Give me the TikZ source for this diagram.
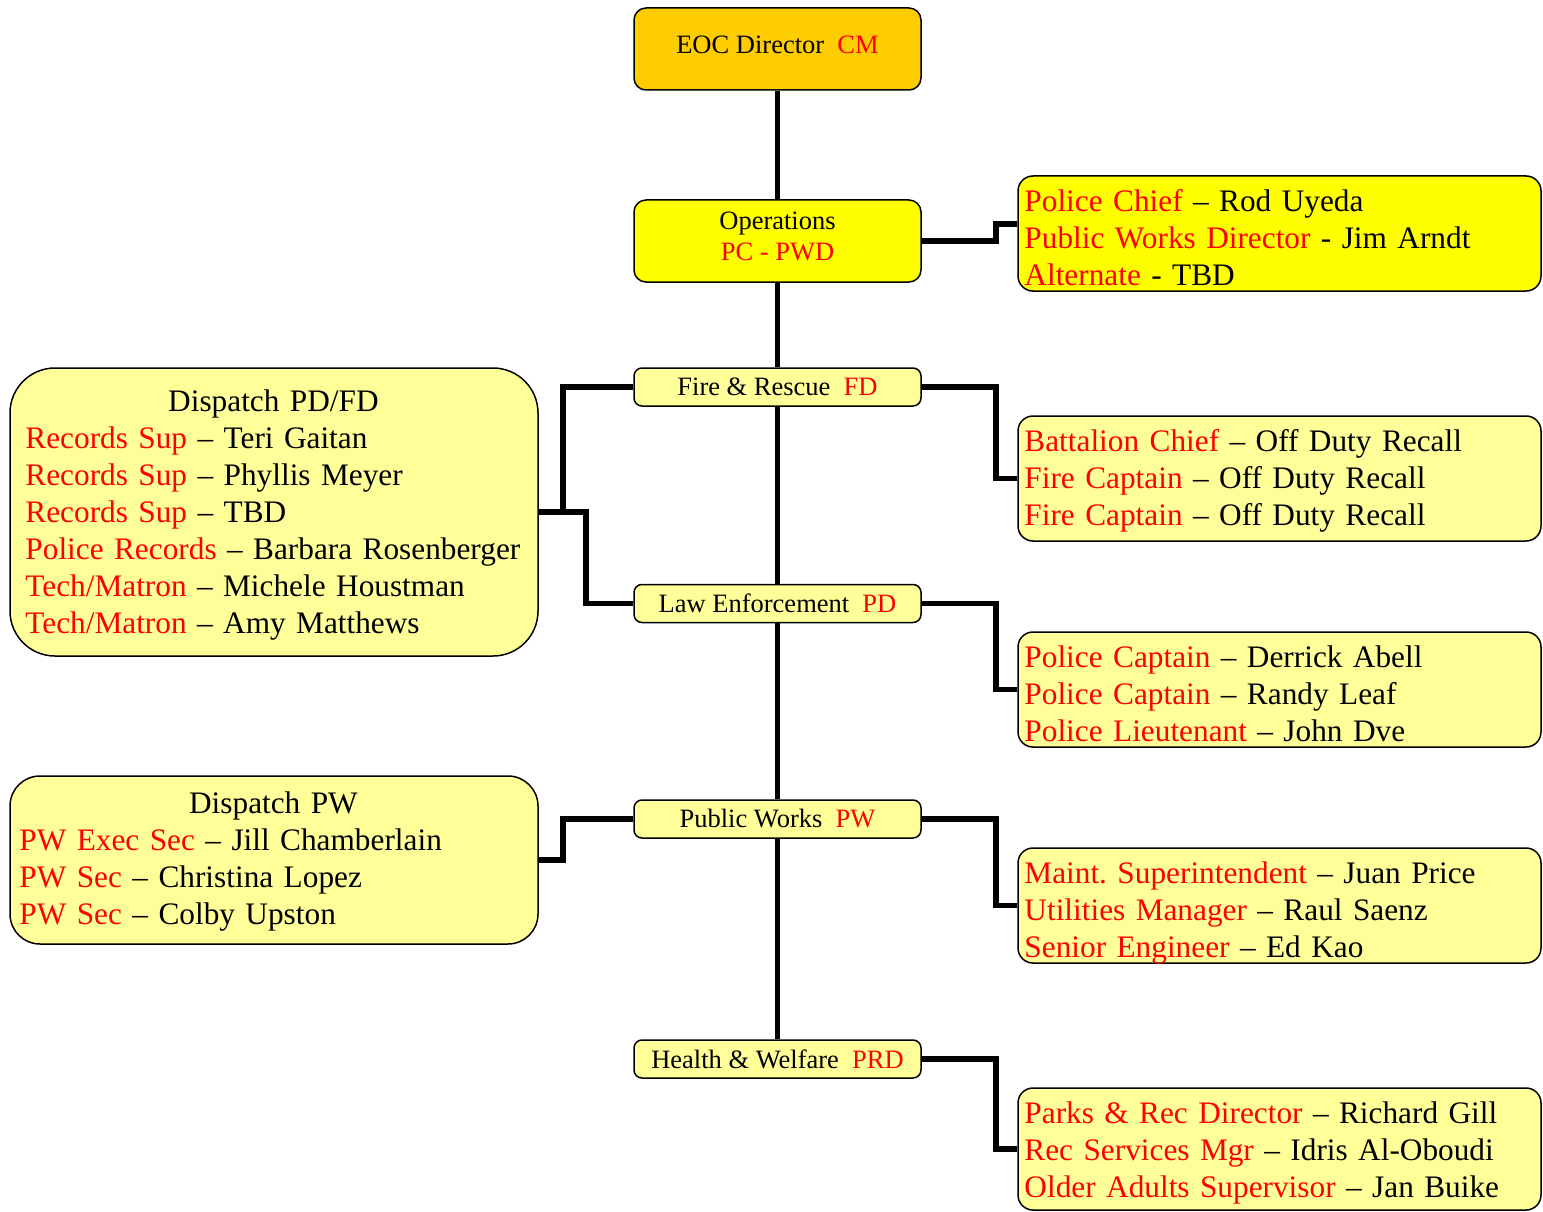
\documentclass[tikz,border=0pt]{standalone}
\usepackage{fontspec}
\setmainfont{Liberation Serif}
\usetikzlibrary{calc}
\definecolor{directorfill}{HTML}{FFCC00}
\definecolor{opsfill}{HTML}{FFFF00}
\definecolor{unitfill}{HTML}{FFFF99}
\definecolor{rolered}{HTML}{FF0000}
\newcommand{\role}[1]{\textcolor{rolered}{#1}}
\newcommand{\lowpad}{\rule[-9pt]{0pt}{9pt}}
\begin{document}
\begin{tikzpicture}[x=1pt,y=-1pt,
  unitbox/.style={draw=black, line width=1.5pt, rounded corners=8pt, fill=unitfill,
    minimum width=287pt, inner sep=0pt, align=center,
    font=\fontsize{26.5}{31}\selectfont},
  staffbox/.style={draw=black, line width=1.5pt, rounded corners=15pt, fill=unitfill,
    minimum width=523pt, inner sep=0pt},
  dispatchbox/.style={draw=black, line width=1.5pt, fill=unitfill,
    minimum width=528pt, inner sep=0pt},
  stafftext/.style={anchor=base west, inner sep=0pt, align=left, text width=600pt,
    font=\fontsize{31.3}{37}\selectfont},
  link/.style={line width=5.5pt, line join=miter}
]
\useasboundingbox (0,0) rectangle (1543,1212);

% command chain
\node[unitbox, fill=directorfill, rounded corners=12pt, minimum height=82pt] (eoc) at (777.5,49)
  {EOC Director~~\role{CM}\lowpad};
\node[unitbox, fill=opsfill, rounded corners=12pt, minimum height=82pt] (ops) at (777.5,241)
  {Operations\\\role{PC - PWD}\lowpad};
\node[unitbox, minimum height=38pt] (fire) at (777.5,387) {Fire \& Rescue~~\role{FD}};
\node[unitbox, minimum height=38pt] (law) at (777.5,603.5) {Law Enforcement~~\role{PD}};
\node[unitbox, minimum height=38pt] (pw) at (777.5,819) {Public Works~~\role{PW}};
\node[unitbox, minimum height=38pt] (hw) at (777.5,1059) {Health \& Welfare~~\role{PRD}};

% staff boxes on the right
\node[staffbox, fill=opsfill, minimum height=115pt] (pcstaff) at (1279.5,233.5) {};
\node[stafftext] at ($(pcstaff.north west)+(7,36)$)
  {\role{Police Chief} -- Rod Uyeda\\
   \role{Public Works Director} - Jim Arndt\\
   \role{Alternate} - TBD};

\node[staffbox, minimum height=125pt] (fdstaff) at (1279.5,478.5) {};
\node[stafftext] at ($(fdstaff.north west)+(7,36)$)
  {\role{Battalion Chief} -- Off Duty Recall\\
   \role{Fire Captain} -- Off Duty Recall\\
   \role{Fire Captain} -- Off Duty Recall};

\node[staffbox, minimum height=115pt] (pdstaff) at (1279.5,689.5) {};
\node[stafftext] at ($(pdstaff.north west)+(7,36)$)
  {\role{Police Captain} -- Derrick Abell\\
   \role{Police Captain} -- Randy Leaf\\
   \role{Police Lieutenant} -- John Dve};

\node[staffbox, minimum height=115pt] (pwstaff) at (1279.5,905.5) {};
\begin{scope}
  \clip[rounded corners=15pt] (pwstaff.north west) rectangle (pwstaff.south east);
  \node[stafftext] at ($(pwstaff.north west)+(7,36)$)
    {\role{Maint.\ Superintendent} -- Juan Price\\
     \role{Utilities Manager} -- Raul Saenz\\
     \role{Senior Engineer} -- Ed Kao};
\end{scope}

\node[staffbox, minimum height=122pt] (prdstaff) at (1279.5,1149) {};
\node[stafftext] at ($(prdstaff.north west)+(7,36)$)
  {\role{Parks \& Rec Director} -- Richard Gill\\
   \role{Rec Services Mgr} -- Idris Al-Oboudi\\
   \role{Older Adults Supervisor} -- Jan Buike};

% dispatch boxes on the left
\node[dispatchbox, rounded corners=45pt, minimum height=288pt] (dispfd) at (274,512) {};
\node[stafftext] at ($(dispfd.north west)+(16,44)$)
  {\makebox[496pt]{Dispatch PD/FD}\\
   \role{Records Sup} -- Teri Gaitan\\
   \role{Records Sup} -- Phyllis Meyer\\
   \role{Records Sup} -- TBD\\
   \role{Police Records} -- Barbara Rosenberger\\
   \role{Tech/Matron} -- Michele Houstman\\
   \role{Tech/Matron} -- Amy Matthews};

\node[dispatchbox, rounded corners=30pt, minimum height=168pt] (disppw) at (274,860) {};
\node[stafftext] at ($(disppw.north west)+(10,38)$)
  {\makebox[508pt]{Dispatch PW}\\
   \role{PW Exec Sec} -- Jill Chamberlain\\
   \role{PW Sec} -- Christina Lopez\\
   \role{PW Sec} -- Colby Upston};

% vertical chain
\draw[link] (eoc.south) -- (ops.north);
\draw[link] (ops.south) -- (fire.north);
\draw[link] (fire.south) -- (law.north);
\draw[link] (law.south) -- (pw.north);
\draw[link] (pw.south) -- (hw.north);

% links to staff boxes
\draw[link] (ops.east) -- ++(74,0) |- ([yshift=9.5pt]pcstaff.west);
\draw[link] (fire.east) -- ++(74,0) |- (fdstaff.west);
\draw[link] (law.east) -- ++(74,0) |- (pdstaff.west);
\draw[link] (pw.east) -- ++(74,0) |- (pwstaff.west);
\draw[link] (hw.east) -- ++(74,0) |- (prdstaff.west);

% links to dispatch boxes
\draw[link] (dispfd.east) -- ++(24,0) |- (fire.west);
\draw[link] (dispfd.east) -- ++(47,0) |- (law.west);
\draw[link] (disppw.east) -- ++(24,0) |- (pw.west);
\end{tikzpicture}
\end{document}
